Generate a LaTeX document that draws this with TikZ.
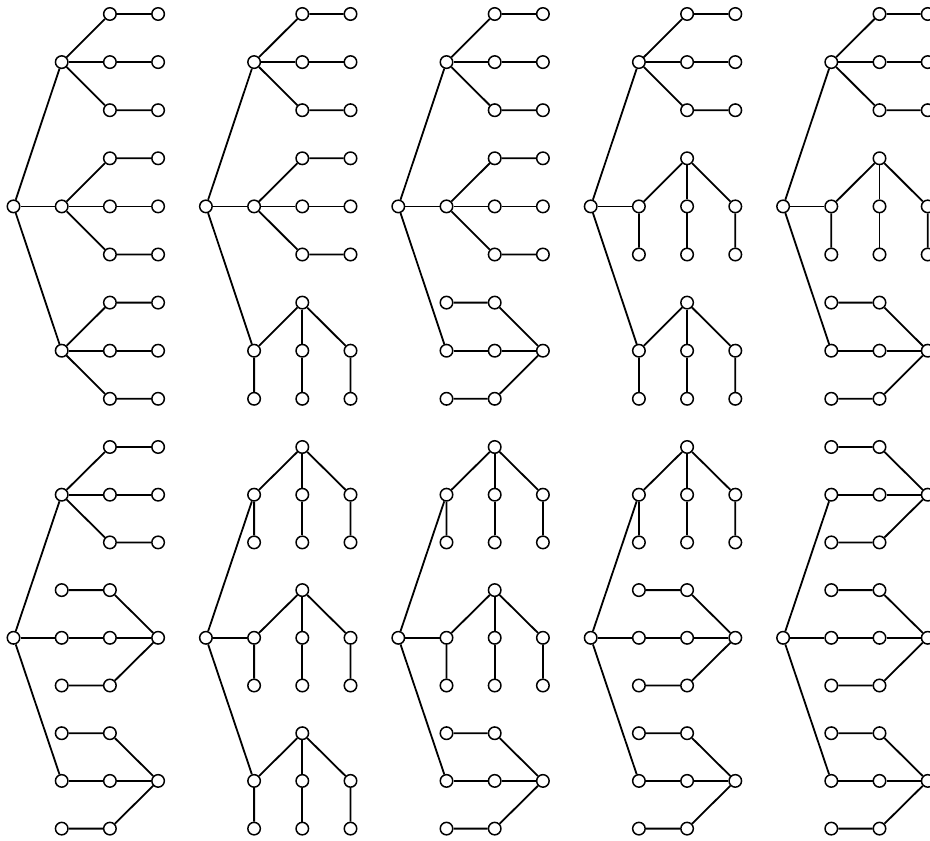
\documentclass[tikz,border=0pt]{standalone}
\begin{document}
\begin{tikzpicture}[x=1pt,y=-1pt,
  v/.style={circle,draw,fill=white,inner sep=0pt,minimum size=12.5pt,line width=1.5pt},
  e/.style={line width=1.8pt}]
\useasboundingbox (0,0) rectangle (930,841);
\fill[white] (0,0) rectangle (930,841);
\clip (0,0) rectangle (930,841);
\def\dx{48.2}
% type A: fan to the right, attached at its centre
\newcommand{\mySubA}[4]{%
  \node[v] (#1a) at ({#2+\dx},{#3}) {};
  \foreach \i in {1,2,3} {
    \node[v] (#1m\i) at ({#2+2*\dx},{#3+(\i-2)*#4}) {};
    \node[v] (#1l\i) at ({#2+3*\dx},{#3+(\i-2)*#4}) {};
    \draw[e] (#1a) -- (#1m\i) -- (#1l\i);
  }}
% type B: hanging, attached at its left child
\newcommand{\mySubB}[4]{%
  \node[v] (#1t) at ({#2+2*\dx},{#3-#4}) {};
  \node[v] (#1a) at ({#2+\dx},{#3}) {};
  \node[v] (#1f1) at ({#2+\dx},{#3+#4}) {};
  \draw[e] (#1t) -- (#1a) -- (#1f1);
  \foreach \i in {2,3} {
    \node[v] (#1k\i) at ({#2+\i*\dx},{#3}) {};
    \node[v] (#1f\i) at ({#2+\i*\dx},{#3+#4}) {};
    \draw[e] (#1t) -- (#1k\i) -- (#1f\i);
  }}
% type C: fan-in from the right, attached at its middle leaf
\newcommand{\mySubC}[4]{%
  \node[v] (#1r) at ({#2+3*\dx},{#3}) {};
  \node[v] (#1a) at ({#2+\dx},{#3}) {};
  \node[v] (#1m2) at ({#2+2*\dx},{#3}) {};
  \draw[e] (#1a) -- (#1m2) -- (#1r);
  \foreach \i/\o in {1/-1,3/1} {
    \node[v] (#1l\i) at ({#2+\dx},{#3+\o*#4}) {};
    \node[v] (#1m\i) at ({#2+2*\dx},{#3+\o*#4}) {};
    \draw[e] (#1l\i) -- (#1m\i) -- (#1r);
  }}
\newcommand{\myPart}[5]{\csname mySub#1\endcsname{#2}{#3}{#4}{#5}}
% tree: name, x0, y of row 0, row step, three types
\newcommand{\myTree}[7]{%
  \node[v] (#1r) at ({#2},{#3+4*#4}) {};
  \myPart{#5}{#1s1}{#2}{#3+#4}{#4}
  \myPart{#6}{#1s2}{#2}{#3+4*#4}{#4}
  \myPart{#7}{#1s3}{#2}{#3+7*#4}{#4}
  \draw[e] (#1r) -- (#1s1a);
  \draw[e] (#1r) -- (#1s2a);
  \draw[e] (#1r) -- (#1s3a);
}
\myTree{Ta}{13.5}{14}{48.1}{A}{A}{A}
\myTree{Tb}{205.9}{14}{48.1}{A}{A}{B}
\myTree{Tc}{398.3}{14}{48.1}{A}{A}{C}
\myTree{Td}{590.7}{14}{48.1}{A}{B}{B}
\myTree{Te}{783.1}{14}{48.1}{A}{B}{C}
\myTree{Tf}{13.5}{447}{47.7}{A}{C}{C}
\myTree{Tg}{205.9}{447}{47.7}{B}{B}{B}
\myTree{Th}{398.3}{447}{47.7}{B}{B}{C}
\myTree{Ti}{590.7}{447}{47.7}{B}{C}{C}
\myTree{Tj}{783.1}{447}{47.7}{C}{C}{C}
\end{tikzpicture}
\end{document}
